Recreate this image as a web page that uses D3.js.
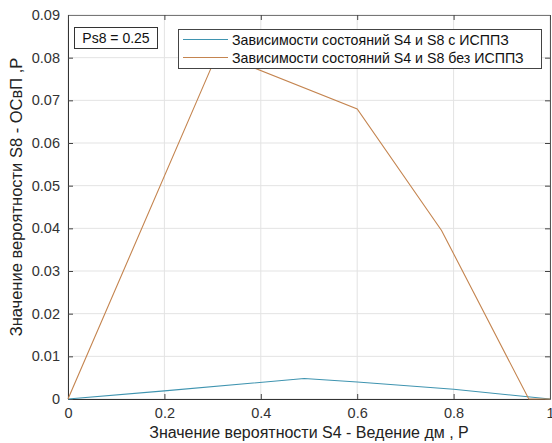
<!DOCTYPE html>
<html><head><meta charset="utf-8">
<script src="https://cdn.jsdelivr.net/npm/d3@7"></script>
<style>body{margin:0;background:#fff;}svg{display:block;font-family:"Liberation Sans",Arial,sans-serif;}</style>
</head><body>
<svg id="c" width="552" height="443"></svg>
<script>
const xTicks = [0, 0.2, 0.4, 0.6, 0.8, 1];
const yTicks = [0, 0.01, 0.02, 0.03, 0.04, 0.05, 0.06, 0.07, 0.08, 0.09];
const withX = [0, 0.2, 0.49, 0.6, 0.8, 1];
const withY = [0, 0.0019, 0.0048, 0.0040, 0.0023, 0];
const withoutX = [0, 0.31, 0.6, 0.775, 0.956, 1];
const withoutY = [0, 0.081, 0.068, 0.0395, 0, 0];
const seriesNames = ["Зависимости состояний S4 и S8 с ИСППЗ", "Зависимости состояний S4 и S8 без ИСППЗ"];
const annotation = "Ps8 = 0.25";
const xTitle = "Значение вероятности S4 - Ведение дм , Р";
const yTitle = "Значение вероятности S8 - ОСвП ,Р";

const svg = d3.select("#c");
const L = 68, R = 550, T = 15, B = 399;
const x = d3.scaleLinear().domain([0, 1]).range([L, R]);
const y = d3.scaleLinear().domain([0, 0.09]).range([B, T]);
const colors = ["#3f94b0", "#c4844f"];

// grid
svg.append("g").selectAll("line").data(xTicks).join("line")
  .attr("x1", d => x(d)).attr("x2", d => x(d)).attr("y1", T).attr("y2", B)
  .attr("stroke", "#e3e3e3").attr("stroke-width", 1);
svg.append("g").selectAll("line").data(yTicks).join("line")
  .attr("y1", d => y(d)).attr("y2", d => y(d)).attr("x1", L).attr("x2", R)
  .attr("stroke", "#e3e3e3").attr("stroke-width", 1);

// axes
const fmt = d => d === 0 ? "0" : d3.format("~g")(d);
const xAxis = svg.append("g").attr("transform", `translate(0,${B})`)
  .call(d3.axisBottom(x).tickValues(xTicks).tickFormat(fmt).tickSizeInner(-5).tickSizeOuter(0).tickPadding(8));
const yAxis = svg.append("g").attr("transform", `translate(${L},0)`)
  .call(d3.axisLeft(y).tickValues(yTicks).tickFormat(fmt).tickSizeInner(-5).tickSizeOuter(0).tickPadding(8));
// right / top ticks
svg.append("g").attr("transform", `translate(${R},0)`)
  .call(d3.axisRight(y).tickValues(yTicks).tickFormat("").tickSizeInner(-5).tickSizeOuter(0))
  .call(g => g.select(".domain").attr("stroke", "#555"));
svg.append("g").attr("transform", `translate(0,${T})`)
  .call(d3.axisTop(x).tickValues(xTicks).tickFormat("").tickSizeInner(-5).tickSizeOuter(0))
  .call(g => g.select(".domain").attr("stroke", "#777"));
[xAxis, yAxis].forEach(g => {
  g.select(".domain").attr("stroke", "#333");
  g.selectAll("text").attr("font-size", 14.5).attr("fill", "#333")
    .attr("font-family", "'Liberation Sans',Arial,sans-serif");
});
xAxis.selectAll("text").attr("dy", "0.75em");
svg.selectAll(".tick line").attr("stroke", "#444");

// lines
const line = d3.line().x(d => x(d[0])).y(d => y(d[1]));
const data = [d3.zip(withX, withY), d3.zip(withoutX, withoutY)];
data.forEach((d, i) => {
  svg.append("path").datum(d).attr("d", line).attr("fill", "none")
    .attr("stroke", colors[i]).attr("stroke-width", 1.1);
});

// annotation box
svg.append("rect").attr("x", 74.5).attr("y", 27.5).attr("width", 83).attr("height", 21)
  .attr("fill", "#fff").attr("stroke", "#333");
svg.append("text").attr("x", 116).attr("y", 43).attr("text-anchor", "middle")
  .attr("font-size", 14).attr("fill", "#111").text(annotation);

// legend
const lg = svg.append("g");
lg.append("rect").attr("x", 178.5).attr("y", 29.5).attr("width", 363).attr("height", 39)
  .attr("fill", "#fff").attr("stroke", "#444");
seriesNames.forEach((n, i) => {
  const yy = 39.5 + i * 18;
  lg.append("line").attr("x1", 183).attr("x2", 228).attr("y1", yy).attr("y2", yy)
    .attr("stroke", colors[i]).attr("stroke-width", 1.1);
  lg.append("text").attr("x", 232).attr("y", yy + 5).attr("font-size", 14.2)
    .attr("fill", "#111").text(n);
});

// titles
svg.append("text").attr("x", 309).attr("y", 438).attr("text-anchor", "middle")
  .attr("font-size", 16).attr("fill", "#222").text(xTitle);
svg.append("text").attr("transform", `translate(22,197) rotate(-90)`)
  .attr("text-anchor", "middle").attr("font-size", 16.5).attr("fill", "#222").text(yTitle);
</script>
</body></html>
